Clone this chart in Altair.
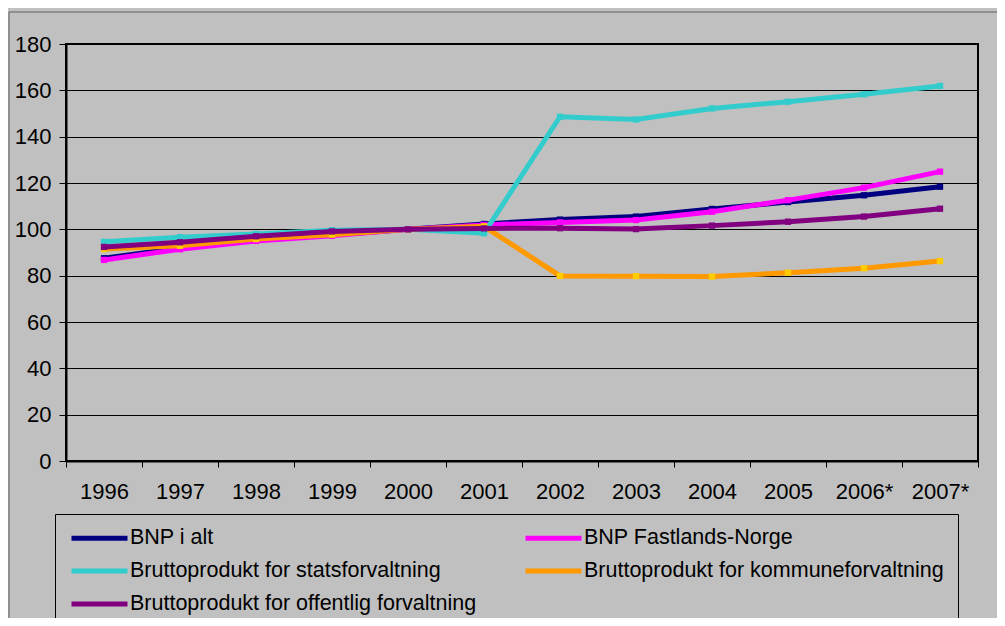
import altair as alt
import pandas as pd

years = ["1996", "1997", "1998", "1999", "2000", "2001", "2002", "2003", "2004", "2005", "2006*", "2007*"]

series_names = [
    "BNP i alt",
    "BNP Fastlands-Norge",
    "Bruttoprodukt for statsforvaltning",
    "Bruttoprodukt for kommuneforvaltning",
    "Bruttoprodukt for offentlig forvaltning",
]

bnp_i_alt = [87.5, 92.0, 95.5, 97.6, 100.0, 102.3, 104.2, 105.5, 108.8, 111.8, 114.7, 118.4]
bnp_fastland = [86.8, 91.4, 95.0, 97.2, 100.0, 101.9, 103.0, 104.0, 107.6, 112.6, 118.0, 124.9]
statsforv = [94.6, 96.6, 98.0, 99.6, 100.0, 98.3, 148.6, 147.4, 152.2, 155.1, 158.3, 161.9]
kommuneforv = [91.5, 92.9, 95.8, 97.7, 100.0, 101.3, 79.9, 79.8, 79.6, 81.3, 83.2, 86.3]
offentligforv = [92.4, 94.4, 97.0, 99.1, 100.0, 100.4, 100.5, 100.1, 101.6, 103.3, 105.5, 108.9]

line_colors = ["#000080", "#FF00FF", "#33CCCC", "#FF9900", "#800080"]
marker_colors = ["#000080", "#FF00FF", "#33CCCC", "#FFCC00", "#800080"]

all_values = [bnp_i_alt, bnp_fastland, statsforv, kommuneforv, offentligforv]

rows = []
for name, vals, mc in zip(series_names, all_values, marker_colors):
    for yr, v in zip(years, vals):
        rows.append({"year": yr, "value": v, "series": name, "marker": mc})
df = pd.DataFrame(rows)

# legend is filled column by column (3 rows, 2 columns); order so it reads row by row
legend_order = [0, 2, 4, 1, 3]
legend_domain = [series_names[i] for i in legend_order]
legend_range = [line_colors[i] for i in legend_order]

FONT = "Liberation Sans"

x_enc = alt.X(
    "year:N",
    sort=years,
    scale=alt.Scale(paddingInner=0, paddingOuter=0),
    axis=alt.Axis(
        title=None,
        labelAngle=0,
        tickBand="extent",
        labelFontSize=22,
        labelFont=FONT,
        labelColor="black",
        labelPadding=14,
        tickSize=6,
        tickColor="black",
        domainColor="black",
        domainWidth=2,
        grid=False,
    ),
)
y_enc = alt.Y(
    "value:Q",
    scale=alt.Scale(domain=[0, 180], nice=False, zero=True),
    axis=alt.Axis(
        title=None,
        values=[0, 20, 40, 60, 80, 100, 120, 140, 160, 180],
        labelFontSize=22,
        labelFont=FONT,
        labelColor="black",
        labelPadding=8,
        tickSize=7,
        tickColor="black",
        domainColor="black",
        domainWidth=2,
        grid=True,
        gridColor="black",
        gridWidth=1,
    ),
)

color_enc = alt.Color(
    "series:N",
    scale=alt.Scale(domain=legend_domain, range=legend_range),
    sort=legend_domain,
    legend=alt.Legend(
        title=None,
        orient="none",
        legendX=-11,
        legendY=470,
        columns=2,
        columnPadding=46,
        rowPadding=11,
        padding=14,
        symbolType="stroke",
        symbolStrokeWidth=5,
        symbolSize=3136,
        clipHeight=20,
        labelFontSize=21.5,
        labelFont=FONT,
        labelColor="black",
        labelLimit=0,
        labelOffset=0,
        strokeColor="black",
        fillColor="#C0C0C0",
    ),
)

base = alt.Chart(df)
layers = []
for name in series_names:
    sub = base.transform_filter(alt.datum.series == name)
    layers.append(
        sub.mark_line(strokeWidth=5).encode(x=x_enc, y=y_enc, color=color_enc)
    )
    layers.append(
        sub.mark_point(shape="square", filled=True, size=40, opacity=1).encode(
            x=x_enc, y=y_enc, color=alt.Color("marker:N", scale=None)
        )
    )

frame = alt.Chart(alt.Data(values=[{}]))
frame_left = frame.mark_rule(color="#606060", strokeWidth=1).encode(
    x=alt.value(-57), y=alt.value(-32), y2=alt.value(700)
)
frame_top = frame.mark_rule(color="#606060", strokeWidth=1).encode(
    x=alt.value(-57), x2=alt.value(1000), y=alt.value(-32)
)

chart = (
    alt.layer(*layers, frame_left, frame_top)
    .properties(
        width=912,
        height=417,
        background="#C0C0C0",
        padding={"left": 58, "top": 36, "right": 19, "bottom": 157},
        autosize=alt.AutoSizeParams(type="none"),
    )
    .configure_view(fill="#C0C0C0", stroke="black", strokeWidth=2)
)

chart.save("out.html", embed_options={"renderer": "svg", "actions": False})
